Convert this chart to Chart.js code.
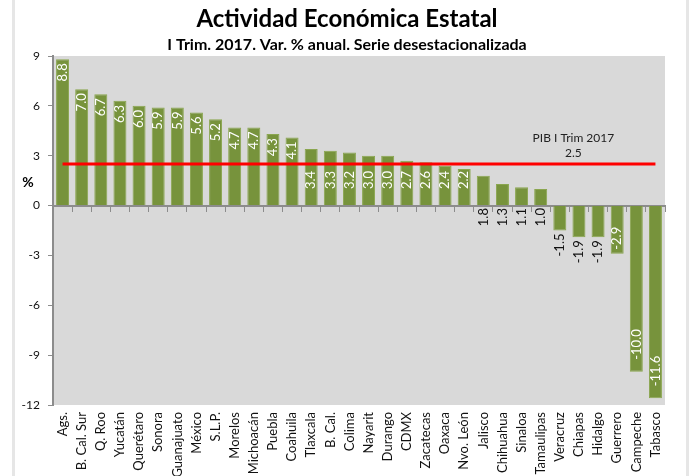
<!DOCTYPE html>
<html>
<head>
<meta charset="utf-8">
<script src="https://cdn.jsdelivr.net/npm/chart.js@4/dist/chart.umd.min.js"></script>
<style>
  html, body { margin: 0; padding: 0; background: #ffffff; }
  #wrap { position: relative; width: 689px; height: 476px; overflow: hidden; }
  .edge { position: absolute; top: 0; height: 476px; background: #e6e6e6; }
  canvas { position: absolute; left: 0; top: 0; }
</style>
</head>
<body>
<div id="wrap">
  <div class="edge" style="left:12px;width:3px;"></div>
  <div class="edge" style="left:686px;width:3px;"></div>
  <canvas id="c" width="689" height="476"></canvas>
</div>
<script>
// ---- Data ----
const states = ["Ags.", "B. Cal. Sur", "Q. Roo", "Yucatán", "Querétaro", "Sonora", "Guanajuato", "México",
  "S.L.P.", "Morelos", "Michoacán", "Puebla", "Coahuila", "Tlaxcala", "B. Cal.", "Colima", "Nayarit",
  "Durango", "CDMX", "Zacatecas", "Oaxaca", "Nvo. León", "Jalisco", "Chihuahua", "Sinaloa", "Tamaulipas",
  "Veracruz", "Chiapas", "Hidalgo", "Guerrero", "Campeche", "Tabasco"];
const growth = [8.8, 7.0, 6.7, 6.3, 6.0, 5.9, 5.9, 5.6, 5.2, 4.7, 4.7, 4.3, 4.1, 3.4, 3.3, 3.2, 3.0,
  3.0, 2.7, 2.6, 2.4, 2.2, 1.8, 1.3, 1.1, 1.0, -1.5, -1.9, -1.9, -2.9, -10.0, -11.6];
const pibValue = 2.5;
const pibLabel = ["PIB I Trim 2017", "2.5"];
const yTicks = [9, 6, 3, 0, -3, -6, -9, -12];
const titleText = "Actividad Económica Estatal";
const subtitleText = "I Trim. 2017. Var. % anual. Serie desestacionalizada";

const FONT = "Lato, 'Open Sans', sans-serif";
const pibLine = states.map(() => pibValue);

const bgPlugin = {
  id: 'bg',
  beforeDraw(chart) {
    const { ctx, chartArea: a } = chart;
    ctx.save();
    ctx.fillStyle = '#d9d9d9';
    ctx.fillRect(a.left, a.top, a.right - a.left, a.bottom - a.top);
    ctx.restore();
  }
};

const textPlugin = {
  id: 'texts',
  afterDraw(chart) {
    const { ctx } = chart;
    ctx.save();
    ctx.fillStyle = '#000';
    ctx.textAlign = 'center';
    ctx.textBaseline = 'middle';
    ctx.font = "bold 24px " + FONT;
    ctx.fillText(titleText, 347, 19);
    ctx.font = "bold 16px " + FONT;
    ctx.fillText(subtitleText, 347, 45);
    ctx.font = "bold 14px " + FONT;
    ctx.fillText("%", 28, 182);
    // PIB annotation
    const xs = chart.scales.x, ys = chart.scales.y;
    const cx = (xs.getPixelForValue(26) + xs.getPixelForValue(27)) / 2 + 4;
    const ly = ys.getPixelForValue(pibValue);
    ctx.font = "12px " + FONT;
    ctx.fillStyle = '#222';
    ctx.fillText(pibLabel[0], cx, ly - 26);
    ctx.fillText(pibLabel[1], cx, ly - 11);
    ctx.restore();
  }
};

const barLabelPlugin = {
  id: 'barLabels',
  afterDatasetsDraw(chart) {
    const { ctx } = chart;
    const meta = chart.getDatasetMeta(1);
    ctx.save();
    ctx.font = "13px " + FONT;
    ctx.textBaseline = 'middle';
    meta.data.forEach((bar, i) => {
      const v = growth[i];
      const txt = v.toFixed(1);
      let oy, align, color;
      if (v >= 4) { oy = bar.y + 4; align = 'right'; color = '#fff'; }
      else if (v >= 2) { oy = bar.base - 16; align = 'left'; color = '#fff'; }
      else if (v > 0) { oy = bar.base + 3; align = 'right'; color = '#111'; }
      else if (v > -2) { oy = bar.y + 3; align = 'right'; color = '#111'; }
      else { oy = bar.y - (v < -5 ? 12 : 4); align = 'left'; color = '#fff'; }
      ctx.save();
      ctx.translate(bar.x, oy);
      ctx.rotate(-Math.PI / 2);
      ctx.textAlign = align;
      ctx.fillStyle = color;
      ctx.fillText(txt, 0, 0);
      ctx.restore();
    });
    ctx.restore();
  }
};

new Chart(document.getElementById('c'), {
  data: {
    labels: states,
    datasets: [
      {
        type: 'line',
        data: pibLine,
        borderColor: '#ff0000',
        borderWidth: 3,
        pointRadius: 0,
        order: 0,
        xAxisID: 'x',
        yAxisID: 'y'
      },
      {
        type: 'bar',
        data: growth,
        backgroundColor: '#77933c',
        borderColor: '#8aa64f',
        borderWidth: 1,
        categoryPercentage: 1,
        barPercentage: 0.68,
        order: 1,
        xAxisID: 'x',
        yAxisID: 'y'
      }
    ]
  },
  options: {
    responsive: false,
    animation: false,
    events: [],
    layout: { padding: { top: 56, right: 24, left: 0, bottom: 0 } },
    plugins: { legend: { display: false }, tooltip: { enabled: false }, title: { display: false } },
    scales: {
      x: {
        type: 'category',
        position: 'bottom',
        offset: true,
        grid: { display: false, drawTicks: false },
        border: { display: false },
        ticks: {
          autoSkip: false, maxRotation: 90, minRotation: 90, padding: 7,
          color: '#111', font: { family: FONT, size: 13 }
        },
        afterFit(s) { s.height = 71; }
      },
      x2: {
        type: 'category',
        position: { y: 0 },
        offset: true,
        grid: { offset: true, drawOnChartArea: false, drawTicks: true, tickLength: 5, color: '#8c8c8c', lineWidth: 1 },
        border: { display: true, color: '#8c8c8c', width: 2 },
        ticks: { display: false }
      },
      y: {
        min: -12, max: 9,
        afterBuildTicks(s) { s.ticks = yTicks.map(v => ({ value: v })); },
        grid: { drawOnChartArea: false, drawTicks: true, tickLength: 5, color: '#8c8c8c' },
        border: { display: true, color: '#8c8c8c', width: 2 },
        ticks: { padding: 8, color: '#111', font: { family: FONT, size: 12 } },
        afterFit(s) { s.width = 53; }
      }
    }
  },
  plugins: [bgPlugin, barLabelPlugin, textPlugin]
});
</script>
</body>
</html>
